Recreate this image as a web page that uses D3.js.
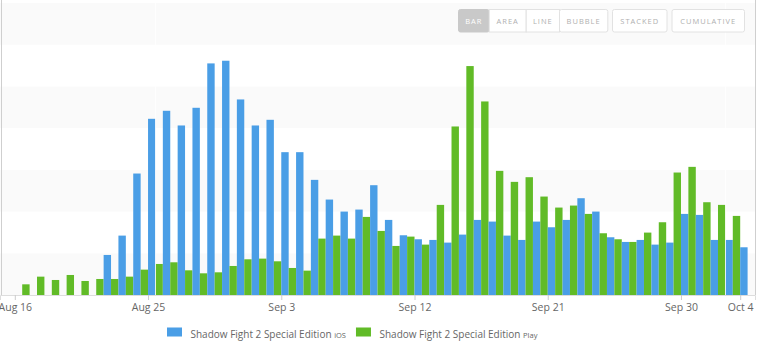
<!DOCTYPE html>
<html>
<head>
<meta charset="utf-8">
<script src="https://cdn.jsdelivr.net/npm/d3@7"></script>
<style>
  html, body { margin: 0; padding: 0; background: #fff; }
  svg { display: block; font-family: "Open Sans", "Noto Sans", sans-serif; }
</style>
</head>
<body>
<svg id="chart" width="768" height="352"></svg>
<script>
// ---- data ----
const dates = [
  "2014-08-16","2014-08-17","2014-08-18","2014-08-19","2014-08-20","2014-08-21","2014-08-22","2014-08-23","2014-08-24","2014-08-25",
  "2014-08-26","2014-08-27","2014-08-28","2014-08-29","2014-08-30","2014-08-31","2014-09-01","2014-09-02","2014-09-03","2014-09-04",
  "2014-09-05","2014-09-06","2014-09-07","2014-09-08","2014-09-09","2014-09-10","2014-09-11","2014-09-12","2014-09-13","2014-09-14",
  "2014-09-15","2014-09-16","2014-09-17","2014-09-18","2014-09-19","2014-09-20","2014-09-21","2014-09-22","2014-09-23","2014-09-24",
  "2014-09-25","2014-09-26","2014-09-27","2014-09-28","2014-09-29","2014-09-30","2014-10-01","2014-10-02","2014-10-03","2014-10-04"
];
const iosValues = [
  0, 0, 0, 0, 0, 0, 480, 712, 1456, 2112,
  2208, 2032, 2244, 2776, 2808, 2344, 2032, 2100, 1712, 1712,
  1380, 1144, 1000, 1024, 1316, 900, 716, 668, 660, 628,
  724, 900, 880, 712, 660, 880, 812, 900, 1160, 1000,
  692, 636, 660, 604, 628, 972, 960, 660, 660, 572
];
const playValues = [
  128, 220, 180, 240, 168, 192, 192, 220, 304, 372,
  392, 296, 260, 272, 348, 428, 436, 404, 324, 292,
  676, 712, 676, 936, 768, 588, 700, 604, 1080, 2020,
  2744, 2320, 1488, 1356, 1412, 1180, 1048, 1072, 972, 740,
  668, 636, 748, 872, 1468, 1536, 1112, 1080, 948, 0
];
const seriesNames = ["Shadow Fight 2 Special Edition", "Shadow Fight 2 Special Edition"];
const seriesStores = ["iOS", "Play"];
const seriesColors = ["#4a9ee6", "#61bb27"];
const xTickDates = ["2014-08-16","2014-08-25","2014-09-03","2014-09-12","2014-09-21","2014-09-30","2014-10-04"];
const xDomainDates = ["2014-08-15","2014-10-05"];
const yBandTicks = [0, 500, 1000, 1500, 2000, 2500, 3000, 3500];
const selectionMarks = ["2014-08-25T12:00:00Z", "2014-10-03T00:00:00Z"];
const buttonGroup1 = ["BAR", "AREA", "LINE", "BUBBLE"];
const buttonGroup2 = ["STACKED"];
const buttonGroup3 = ["CUMULATIVE"];

// ---- setup ----
const parse = d3.utcParse("%Y-%m-%d");
const svg = d3.select("#chart");
const plot = { left: 0, right: 755, top: 3, bottom: 295 };

const x = d3.scaleUtc()
  .domain(xDomainDates.map(parse))
  .range([plot.left, plot.right]);
const y = d3.scaleLinear()
  .domain([0, 3500])
  .range([plot.bottom, plot.top]);

// alternating bands
const bands = d3.pairs(yBandTicks);
svg.append("g").selectAll("rect").data(bands).join("rect")
  .attr("x", plot.left)
  .attr("width", plot.right - plot.left)
  .attr("y", d => y(d[1]))
  .attr("height", d => y(d[0]) - y(d[1]))
  .attr("fill", (d, i) => i % 2 === 0 ? "#fafafa" : "#ffffff");

// bars
const rows = dates.map((d, i) => ({ date: parse(d), ios: iosValues[i], play: playValues[i] }));
const gBars = svg.append("g");
rows.forEach(r => {
  const x0 = x(r.date);
  const x1 = x(d3.utcDay.offset(r.date, 1));
  const mid = (x0 + x1) / 2;
  if (r.ios > 0) {
    gBars.append("rect")
      .attr("x", x0).attr("width", mid - x0)
      .attr("y", y(r.ios)).attr("height", y(0) - y(r.ios))
      .attr("fill", seriesColors[0]);
  }
  if (r.play > 0) {
    gBars.append("rect")
      .attr("x", mid).attr("width", x1 - mid)
      .attr("y", y(r.play)).attr("height", y(0) - y(r.play))
      .attr("fill", seriesColors[1]);
  }
});

// selection marks
svg.append("g").selectAll("line").data(selectionMarks).join("line")
  .attr("x1", d => Math.round(x(new Date(d))) + 0.5)
  .attr("x2", d => Math.round(x(new Date(d))) + 0.5)
  .attr("y1", plot.top).attr("y2", plot.bottom)
  .attr("stroke", "#ffffff").attr("stroke-width", 1).attr("opacity", 0.8);

// borders
svg.append("line")
  .attr("x1", 1.5).attr("x2", 1.5).attr("y1", 0).attr("y2", plot.bottom)
  .attr("stroke", "#cfcfcf");
svg.append("line")
  .attr("x1", plot.right + 0.5).attr("x2", plot.right + 0.5).attr("y1", 0).attr("y2", plot.bottom)
  .attr("stroke", "#cfcfcf");

// x axis
const xAxis = d3.axisBottom(x)
  .tickValues(xTickDates.map(parse))
  .tickFormat(d3.utcFormat("%b %-d"))
  .tickSize(5)
  .tickPadding(4);
const gx = svg.append("g")
  .attr("transform", `translate(0,${plot.bottom})`)
  .call(xAxis);
gx.select(".domain").attr("stroke", "#dddddd");
gx.selectAll(".tick line").attr("stroke", "#cccccc");
gx.selectAll(".tick text")
  .attr("fill", "#666666")
  .style("font-size", "10.5px")
  .style("font-family", "'Open Sans', sans-serif");

// legend
const legend = svg.append("g").attr("transform", "translate(167,0)");
let lx = 0;
seriesNames.forEach((name, i) => {
  legend.append("rect")
    .attr("x", lx).attr("y", 327.5).attr("width", 15).attr("height", 9)
    .attr("fill", seriesColors[i]);
  const t = legend.append("text")
    .attr("x", lx + 23.5).attr("y", 337.5)
    .attr("fill", "#666666")
    .style("font-size", "10px");
  t.append("tspan").text(name + " ");
  t.append("tspan").style("font-size", "7.5px").text(seriesStores[i]);
  lx += 23.5 + t.node().getComputedTextLength() + 10;
});

// buttons
function drawButtons(labels, startX, widths, activeIdx) {
  const g = svg.append("g");
  let bx = startX;
  labels.forEach((lab, i) => {
    const w = widths[i];
    g.append("rect")
      .attr("x", bx + 0.5).attr("y", 9.5).attr("width", w).attr("height", 22.5)
      .attr("rx", i === 0 || i === labels.length - 1 ? 2 : 0)
      .attr("fill", i === activeIdx ? "#c9c9c9" : "#ffffff")
      .attr("stroke", i === activeIdx ? "#c9c9c9" : "#e2e2e2");
    g.append("text")
      .attr("x", bx + 0.5 + w / 2).attr("y", 23.5)
      .attr("text-anchor", "middle")
      .attr("fill", i === activeIdx ? "#ffffff" : "#b0b0b0")
      .style("font-size", "7.5px")
      .style("letter-spacing", "1px")
      .text(lab);
    bx += w;
  });
}
drawButtons(buttonGroup1, 458, [30.7, 37, 33.3, 48.3], 0);
drawButtons(buttonGroup2, 612, [54.5], -1);
drawButtons(buttonGroup3, 671.5, [72.5], -1);
</script>
</body>
</html>
